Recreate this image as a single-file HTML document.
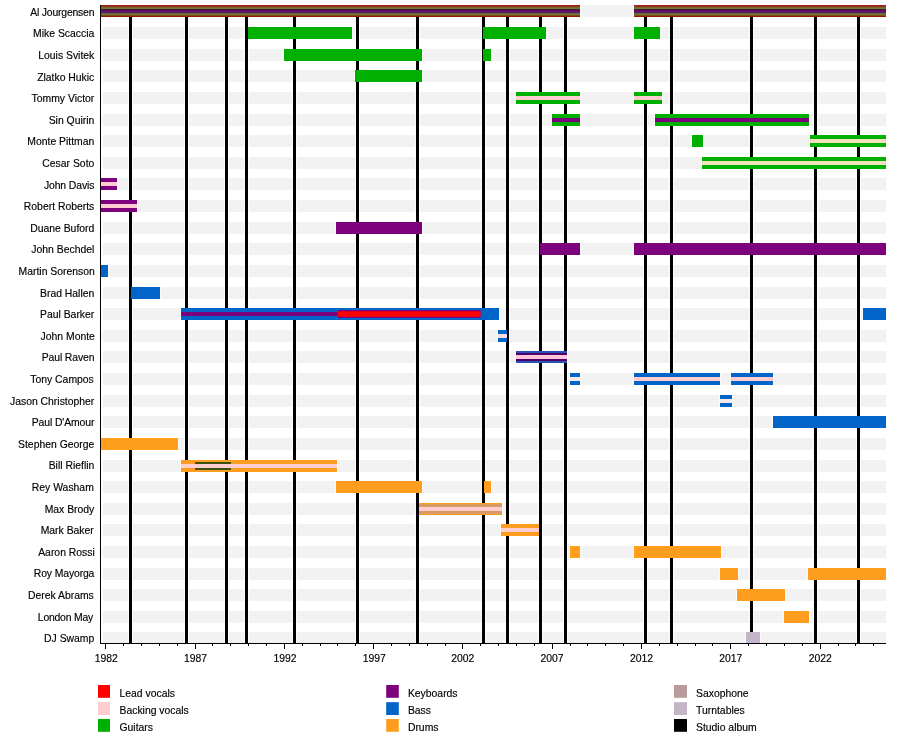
<!DOCTYPE html>
<html lang="en"><head><meta charset="utf-8"><title>Ministry timeline</title>
<style>
html,body{margin:0;padding:0;background:#fff}
body{width:900px;height:743px;position:relative;overflow:hidden;font-family:"Liberation Sans",sans-serif;font-size:10.4px;color:#000;-webkit-text-stroke:0.15px #000}
#c{position:absolute;left:0;top:0;width:900px;height:743px;overflow:hidden}
#c div{position:absolute}
svg{position:absolute;left:0;top:0}
.n{left:0;width:94.3px;text-align:right;white-space:nowrap;height:12px;line-height:12px}
.t{width:40px;text-align:center;top:653px;height:12px;line-height:12px}
.g{height:12px;line-height:12px;white-space:nowrap}
</style></head><body><div id="c">
<svg width="900" height="743" viewBox="0 0 900 743">
<defs>
<linearGradient id="al" x1="0" y1="0" x2="0" y2="1">
<stop offset="0" stop-color="#b01c14"/>
<stop offset="0.09" stop-color="#a01e19"/>
<stop offset="0.15" stop-color="#82460f"/>
<stop offset="0.24" stop-color="#707a3e"/>
<stop offset="0.31" stop-color="#707a3e"/>
<stop offset="0.37" stop-color="#341c2c"/>
<stop offset="0.46" stop-color="#680c64"/>
<stop offset="0.58" stop-color="#680c64"/>
<stop offset="0.66" stop-color="#483e54"/>
<stop offset="0.74" stop-color="#76763c"/>
<stop offset="0.81" stop-color="#76763c"/>
<stop offset="0.88" stop-color="#7d460f"/>
<stop offset="0.95" stop-color="#8c1905"/>
<stop offset="1" stop-color="#a01e0a"/>
</linearGradient>
</defs>

<g fill="#f2f2f2">
<rect x="101" y="5" width="785" height="12"/>
<rect x="101" y="27" width="785" height="12"/>
<rect x="101" y="49" width="785" height="12"/>
<rect x="101" y="70" width="785" height="12"/>
<rect x="101" y="92" width="785" height="12"/>
<rect x="101" y="114" width="785" height="12"/>
<rect x="101" y="135" width="785" height="12"/>
<rect x="101" y="157" width="785" height="12"/>
<rect x="101" y="178" width="785" height="12"/>
<rect x="101" y="200" width="785" height="12"/>
<rect x="101" y="222" width="785" height="12"/>
<rect x="101" y="243" width="785" height="12"/>
<rect x="101" y="265" width="785" height="12"/>
<rect x="101" y="287" width="785" height="12"/>
<rect x="101" y="308" width="785" height="12"/>
<rect x="101" y="330" width="785" height="12"/>
<rect x="101" y="351" width="785" height="12"/>
<rect x="101" y="373" width="785" height="12"/>
<rect x="101" y="395" width="785" height="12"/>
<rect x="101" y="416" width="785" height="12"/>
<rect x="101" y="438" width="785" height="12"/>
<rect x="101" y="460" width="785" height="12"/>
<rect x="101" y="481" width="785" height="12"/>
<rect x="101" y="503" width="785" height="12"/>
<rect x="101" y="524" width="785" height="12"/>
<rect x="101" y="546" width="785" height="12"/>
<rect x="101" y="568" width="785" height="12"/>
<rect x="101" y="589" width="785" height="12"/>
<rect x="101" y="611" width="785" height="12"/>
<rect x="101" y="632" width="785" height="11"/>
</g>
<g fill="#fff" fill-opacity="0.75">
<rect x="101" y="5" width="2" height="638"/>
<rect x="128" y="10" width="5" height="633"/>
<rect x="184" y="10" width="5" height="633"/>
<rect x="224" y="10" width="5" height="633"/>
<rect x="244" y="10" width="5" height="633"/>
<rect x="292" y="10" width="5" height="633"/>
<rect x="355" y="10" width="5" height="633"/>
<rect x="415" y="10" width="5" height="633"/>
<rect x="481" y="10" width="5" height="633"/>
<rect x="505" y="10" width="5" height="633"/>
<rect x="538" y="10" width="5" height="633"/>
<rect x="563" y="10" width="5" height="633"/>
<rect x="643" y="10" width="5" height="633"/>
<rect x="669" y="10" width="5" height="633"/>
<rect x="749" y="10" width="5" height="633"/>
<rect x="813" y="10" width="5" height="633"/>
<rect x="856" y="10" width="5" height="633"/>
<rect x="99" y="5" width="482" height="12"/>
<rect x="633" y="5" width="254" height="12"/>
<rect x="247" y="27" width="106" height="12"/>
<rect x="482" y="27" width="65" height="12"/>
<rect x="633" y="27" width="28" height="12"/>
<rect x="283" y="49" width="140" height="12"/>
<rect x="482" y="49" width="10" height="12"/>
<rect x="354" y="70" width="69" height="12"/>
<rect x="515" y="92" width="66" height="12"/>
<rect x="633" y="92" width="30" height="12"/>
<rect x="551" y="114" width="30" height="12"/>
<rect x="654" y="114" width="156" height="12"/>
<rect x="691" y="135" width="13" height="12"/>
<rect x="809" y="135" width="78" height="12"/>
<rect x="701" y="157" width="186" height="12"/>
<rect x="99" y="178" width="19" height="12"/>
<rect x="99" y="200" width="39" height="12"/>
<rect x="335" y="222" width="88" height="12"/>
<rect x="539" y="243" width="42" height="12"/>
<rect x="633" y="243" width="254" height="12"/>
<rect x="99" y="265" width="10" height="12"/>
<rect x="130" y="287" width="31" height="12"/>
<rect x="180" y="308" width="320" height="12"/>
<rect x="180" y="308" width="159" height="12"/>
<rect x="337" y="308" width="144.5" height="12"/>
<rect x="862" y="308" width="25" height="12"/>
<rect x="497" y="330" width="11" height="12"/>
<rect x="515" y="351" width="53" height="12"/>
<rect x="569" y="373" width="12" height="12"/>
<rect x="633" y="373" width="88" height="12"/>
<rect x="730" y="373" width="44" height="12"/>
<rect x="719" y="395" width="14" height="12"/>
<rect x="772" y="416" width="115" height="12"/>
<rect x="99" y="438" width="80" height="12"/>
<rect x="180" y="460" width="158" height="12"/>
<rect x="194" y="460" width="38" height="12"/>
<rect x="335" y="481" width="88" height="12"/>
<rect x="483" y="481" width="9" height="12"/>
<rect x="418" y="503" width="85" height="12"/>
<rect x="500" y="524" width="40" height="12"/>
<rect x="569" y="546" width="12" height="12"/>
<rect x="633" y="546" width="89" height="12"/>
<rect x="719" y="568" width="20" height="12"/>
<rect x="807" y="568" width="80" height="12"/>
<rect x="736" y="589" width="50" height="12"/>
<rect x="783" y="611" width="27" height="12"/>
<rect x="745" y="632" width="16" height="11"/>
</g>
<g fill="#000">
<rect x="129" y="10" width="3" height="633"/>
<rect x="185" y="10" width="3" height="633"/>
<rect x="225" y="10" width="3" height="633"/>
<rect x="245" y="10" width="3" height="633"/>
<rect x="293" y="10" width="3" height="633"/>
<rect x="356" y="10" width="3" height="633"/>
<rect x="416" y="10" width="3" height="633"/>
<rect x="482" y="10" width="3" height="633"/>
<rect x="506" y="10" width="3" height="633"/>
<rect x="539" y="10" width="3" height="633"/>
<rect x="564" y="10" width="3" height="633"/>
<rect x="644" y="10" width="3" height="633"/>
<rect x="670" y="10" width="3" height="633"/>
<rect x="750" y="10" width="3" height="633"/>
<rect x="814" y="10" width="3" height="633"/>
<rect x="857" y="10" width="3" height="633"/>
</g>
<rect x="100" y="5" width="480" height="12" fill="url(#al)"/>
<rect x="634" y="5" width="252" height="12" fill="url(#al)"/>
<rect x="248" y="27" width="104" height="12" fill="#00b000"/>
<rect x="483" y="27" width="63" height="12" fill="#00b000"/>
<rect x="634" y="27" width="26" height="12" fill="#00b000"/>
<rect x="284" y="49" width="138" height="12" fill="#00b000"/>
<rect x="483" y="49" width="8" height="12" fill="#00b000"/>
<rect x="355" y="70" width="67" height="12" fill="#00b000"/>
<rect x="516" y="92" width="64" height="12" fill="#00b000"/>
<rect x="516" y="96" width="64" height="4" fill="#ffcccf"/>
<rect x="634" y="92" width="28" height="12" fill="#00b000"/>
<rect x="634" y="96" width="28" height="4" fill="#ffcccf"/>
<rect x="552" y="114" width="28" height="12" fill="#00b000"/>
<rect x="552" y="118" width="28" height="4" fill="#7d007d"/>
<rect x="655" y="114" width="154" height="12" fill="#00b000"/>
<rect x="655" y="118" width="154" height="4" fill="#7d007d"/>
<rect x="692" y="135" width="11" height="12" fill="#00b000"/>
<rect x="810" y="135" width="76" height="12" fill="#00b000"/>
<rect x="810" y="139" width="76" height="4" fill="#f2e0ba"/>
<rect x="702" y="157" width="184" height="12" fill="#00b000"/>
<rect x="702" y="161" width="184" height="4" fill="#f2e0ba"/>
<rect x="100" y="178" width="17" height="12" fill="#7d007d"/>
<rect x="100" y="182" width="17" height="4" fill="#ffcccf"/>
<rect x="100" y="200" width="37" height="12" fill="#7d007d"/>
<rect x="100" y="204" width="37" height="4" fill="#ffcccf"/>
<rect x="336" y="222" width="86" height="12" fill="#7d007d"/>
<rect x="540" y="243" width="40" height="12" fill="#7d007d"/>
<rect x="634" y="243" width="252" height="12" fill="#7d007d"/>
<rect x="100" y="265" width="8" height="12" fill="#0064c8"/>
<rect x="131" y="287" width="29" height="12" fill="#0064c8"/>
<rect x="181" y="308" width="318" height="12" fill="#0064c8"/>
<rect x="181" y="312" width="157" height="4" fill="#7d007d"/>
<rect x="338" y="310" width="142.5" height="8" fill="#7d007d"/>
<rect x="338" y="311.3" width="142.5" height="5.4" fill="#ff0000"/>
<rect x="863" y="308" width="23" height="12" fill="#0064c8"/>
<rect x="498" y="330" width="9" height="12" fill="#0064c8"/>
<rect x="498" y="334" width="9" height="4" fill="#f6dcdc"/>
<rect x="516" y="351" width="51" height="12" fill="#2a52b8"/>
<rect x="516" y="353" width="51" height="8" fill="#4c0068"/>
<rect x="516" y="355" width="51" height="4" fill="#ffc4dc"/>
<rect x="570" y="373" width="10" height="12" fill="#0064c8"/>
<rect x="570" y="377" width="10" height="4" fill="#f1e9ec"/>
<rect x="634" y="373" width="86" height="12" fill="#0064c8"/>
<rect x="634" y="377" width="86" height="4" fill="#ffcccf"/>
<rect x="731" y="373" width="42" height="12" fill="#0064c8"/>
<rect x="731" y="377" width="42" height="4" fill="#ffcccf"/>
<rect x="720" y="395" width="12" height="12" fill="#0064c8"/>
<rect x="720" y="399" width="12" height="4" fill="#f1e9ec"/>
<rect x="773" y="416" width="113" height="12" fill="#0064c8"/>
<rect x="100" y="438" width="78" height="12" fill="#ff9e1e"/>
<rect x="181" y="460" width="156" height="12" fill="#ff9e1e"/>
<rect x="181" y="464" width="156" height="4" fill="#ffcccf"/>
<rect x="195" y="462" width="36" height="8" fill="#3c5014"/>
<rect x="195" y="464" width="36" height="4" fill="#ffcccf"/>
<rect x="336" y="481" width="86" height="12" fill="#ff9e1e"/>
<rect x="484" y="481" width="7" height="12" fill="#ff9e1e"/>
<rect x="419" y="503" width="83" height="12" fill="#ff9e1e"/>
<rect x="419" y="504" width="83" height="10" fill="#d99a66"/>
<rect x="419" y="507" width="83" height="4" fill="#ffcccf"/>
<rect x="501" y="524" width="38" height="12" fill="#ff9e1e"/>
<rect x="501" y="528" width="38" height="4" fill="#ffcccf"/>
<rect x="570" y="546" width="10" height="12" fill="#ff9e1e"/>
<rect x="634" y="546" width="87" height="12" fill="#ff9e1e"/>
<rect x="720" y="568" width="18" height="12" fill="#ff9e1e"/>
<rect x="808" y="568" width="78" height="12" fill="#ff9e1e"/>
<rect x="737" y="589" width="48" height="12" fill="#ff9e1e"/>
<rect x="784" y="611" width="25" height="12" fill="#ff9e1e"/>
<rect x="746" y="632" width="14" height="11" fill="#c4b4c8"/>
<g fill="#000">
<rect x="100" y="5" width="1" height="639"/>
<rect x="100" y="643" width="786" height="1"/>
<rect x="105" y="643" width="1" height="6"/>
<rect x="123" y="643" width="1" height="3"/>
<rect x="141" y="643" width="1" height="3"/>
<rect x="159" y="643" width="1" height="3"/>
<rect x="177" y="643" width="1" height="3"/>
<rect x="195" y="643" width="1" height="6"/>
<rect x="212" y="643" width="1" height="3"/>
<rect x="230" y="643" width="1" height="3"/>
<rect x="248" y="643" width="1" height="3"/>
<rect x="266" y="643" width="1" height="3"/>
<rect x="284" y="643" width="1" height="6"/>
<rect x="302" y="643" width="1" height="3"/>
<rect x="320" y="643" width="1" height="3"/>
<rect x="337" y="643" width="1" height="3"/>
<rect x="355" y="643" width="1" height="3"/>
<rect x="373" y="643" width="1" height="6"/>
<rect x="391" y="643" width="1" height="3"/>
<rect x="409" y="643" width="1" height="3"/>
<rect x="427" y="643" width="1" height="3"/>
<rect x="445" y="643" width="1" height="3"/>
<rect x="462" y="643" width="1" height="6"/>
<rect x="480" y="643" width="1" height="3"/>
<rect x="498" y="643" width="1" height="3"/>
<rect x="516" y="643" width="1" height="3"/>
<rect x="534" y="643" width="1" height="3"/>
<rect x="552" y="643" width="1" height="6"/>
<rect x="570" y="643" width="1" height="3"/>
<rect x="587" y="643" width="1" height="3"/>
<rect x="605" y="643" width="1" height="3"/>
<rect x="623" y="643" width="1" height="3"/>
<rect x="641" y="643" width="1" height="6"/>
<rect x="659" y="643" width="1" height="3"/>
<rect x="677" y="643" width="1" height="3"/>
<rect x="695" y="643" width="1" height="3"/>
<rect x="712" y="643" width="1" height="3"/>
<rect x="730" y="643" width="1" height="6"/>
<rect x="748" y="643" width="1" height="3"/>
<rect x="766" y="643" width="1" height="3"/>
<rect x="784" y="643" width="1" height="3"/>
<rect x="802" y="643" width="1" height="3"/>
<rect x="820" y="643" width="1" height="6"/>
<rect x="838" y="643" width="1" height="3"/>
<rect x="855" y="643" width="1" height="3"/>
<rect x="873" y="643" width="1" height="3"/>
</g>
<rect x="98" y="685" width="12" height="12.8" fill="#ff0000"/>
<rect x="98" y="702.2" width="12" height="12.8" fill="#ffcccf"/>
<rect x="98" y="719" width="12" height="12.8" fill="#00b000"/>
<rect x="386.2" y="685" width="12.6" height="12.8" fill="#7d007d"/>
<rect x="386.2" y="702.2" width="12.6" height="12.8" fill="#0064c8"/>
<rect x="386.2" y="719" width="12.6" height="12.8" fill="#ff9e1e"/>
<rect x="674" y="685" width="13" height="12.8" fill="#b99b9b"/>
<rect x="674" y="702.2" width="13" height="12.8" fill="#c4b4c8"/>
<rect x="674" y="719" width="13" height="12.8" fill="#000"/>
</svg>
<div class="t" style="left:86.2px">1982</div>
<div class="t" style="left:175.58px">1987</div>
<div class="t" style="left:264.95px">1992</div>
<div class="t" style="left:354.32px">1997</div>
<div class="t" style="left:442.7px">2002</div>
<div class="t" style="left:532.07px">2007</div>
<div class="t" style="left:621.45px">2012</div>
<div class="t" style="left:710.82px">2017</div>
<div class="t" style="left:800.2px">2022</div>
<div class="n" style="top:7px;letter-spacing:-0.18px">Al Jourgensen</div>
<div class="n" style="top:28px">Mike Scaccia</div>
<div class="n" style="top:50px">Louis Svitek</div>
<div class="n" style="top:72px">Zlatko Hukic</div>
<div class="n" style="top:93px">Tommy Victor</div>
<div class="n" style="top:115px">Sin Quirin</div>
<div class="n" style="top:136px">Monte Pittman</div>
<div class="n" style="top:158px">Cesar Soto</div>
<div class="n" style="top:180px;letter-spacing:-0.1px">John Davis</div>
<div class="n" style="top:201px">Robert Roberts</div>
<div class="n" style="top:223px">Duane Buford</div>
<div class="n" style="top:244px">John Bechdel</div>
<div class="n" style="top:266px;left:0.5px">Martin Sorenson</div>
<div class="n" style="top:288px">Brad Hallen</div>
<div class="n" style="top:309px">Paul Barker</div>
<div class="n" style="top:331px;left:0.6px">John Monte</div>
<div class="n" style="top:352px;letter-spacing:-0.12px">Paul Raven</div>
<div class="n" style="top:374px;left:-0.5px">Tony Campos</div>
<div class="n" style="top:396px">Jason Christopher</div>
<div class="n" style="top:417px;letter-spacing:-0.1px">Paul D&#39;Amour</div>
<div class="n" style="top:439px">Stephen George</div>
<div class="n" style="top:460px">Bill Rieflin</div>
<div class="n" style="top:482px;left:-0.5px">Rey Washam</div>
<div class="n" style="top:504px">Max Brody</div>
<div class="n" style="top:525px;left:-0.5px">Mark Baker</div>
<div class="n" style="top:547px;left:0.5px">Aaron Rossi</div>
<div class="n" style="top:568px;letter-spacing:-0.12px">Roy Mayorga</div>
<div class="n" style="top:590px;left:-0.5px">Derek Abrams</div>
<div class="n" style="top:612px;letter-spacing:-0.2px;left:-1.3px">London May</div>
<div class="n" style="top:633px">DJ Swamp</div>
<div class="g" style="left:119.5px;top:688px">Lead vocals</div>
<div class="g" style="left:119.5px;top:705px">Backing vocals</div>
<div class="g" style="left:119.5px;top:722px">Guitars</div>
<div class="g" style="left:407.9px;top:688px">Keyboards</div>
<div class="g" style="left:407.9px;top:705px">Bass</div>
<div class="g" style="left:407.9px;top:722px">Drums</div>
<div class="g" style="left:696px;top:688px">Saxophone</div>
<div class="g" style="left:696px;top:705px">Turntables</div>
<div class="g" style="left:696px;top:722px">Studio album</div>
</div></body></html>
